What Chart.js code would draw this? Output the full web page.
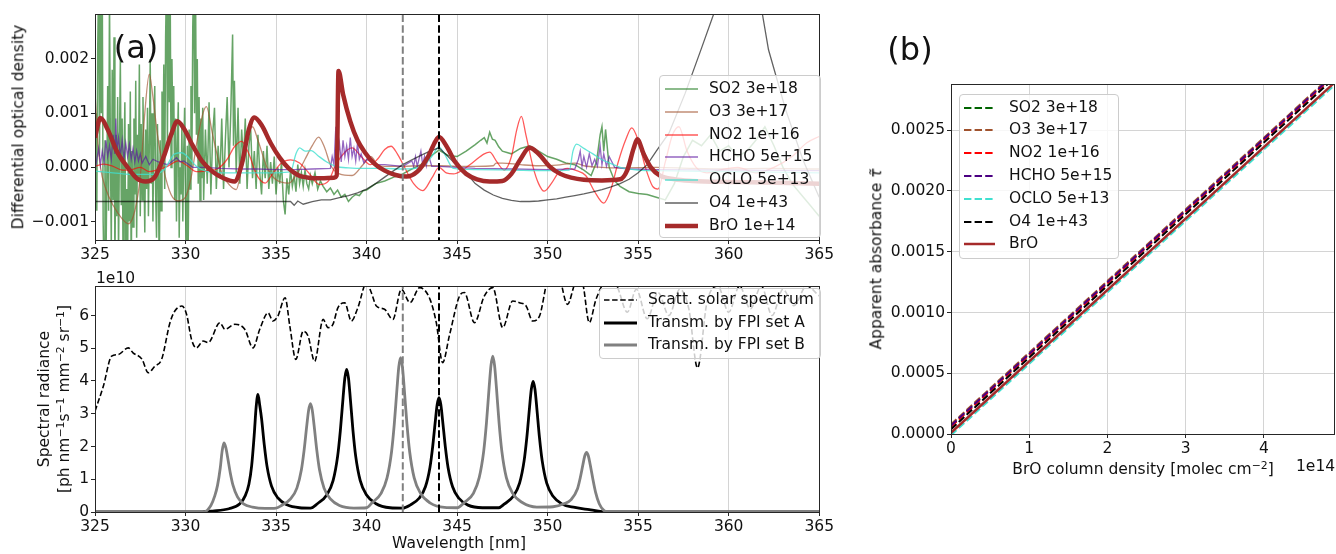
<!DOCTYPE html>
<html>
<head>
<meta charset="utf-8">
<script src="https://cdn.jsdelivr.net/npm/chart.js@4.4.1/dist/chart.umd.min.js"></script>
<style>
  body { margin: 0; background: #fff; width: 1336px; height: 554px; position: relative; overflow: hidden;
         font-family: "DejaVu Sans", sans-serif; color: #111; }
  canvas { position: absolute; }
  .t { position: absolute; font-size: 15.5px; white-space: nowrap; line-height: 1; }
  .rot { transform: translate(-50%, -50%) rotate(-90deg); }
  .ctr { transform: translate(-50%, -50%); }
  .legend { position: absolute; background: rgba(255,255,255,0.8); border: 1px solid #ccc; border-radius: 4px; box-sizing: border-box; }
  .lt { position: absolute; transform: translateY(-50%); font-size: 15.5px; white-space: nowrap; line-height: 1; }
  sup { font-size: 70%; line-height: 0; vertical-align: 0.5em; }
</style>
</head>
<body>
<canvas id="odChart" width="836" height="270" style="left:0;top:0"></canvas>
<canvas id="radChart" width="836" height="284" style="left:0;top:270px"></canvas>
<canvas id="linChart" width="496" height="554" style="left:840px;top:0"></canvas>

<div class="t ctr" style="left:136px;top:47px;font-size:32px">(a)</div>
<div class="t ctr" style="left:910px;top:49px;font-size:32px">(b)</div>
<div class="t rot" style="left:19px;top:127px">Differential optical density</div>
<div class="t rot" style="left:45px;top:399px">Spectral radiance</div>
<div class="t rot" style="left:65px;top:399px">[ph nm<sup>−1</sup>s<sup>−1</sup> mm<sup>−2</sup> sr<sup>−1</sup>]</div>
<div class="t" style="left:96px;top:271px">1e10</div>
<div class="t ctr" style="left:459px;top:544px">Wavelength [nm]</div>
<div class="t rot" style="left:877px;top:259px">Apparent absorbance <i>τ̃</i></div>
<div class="t ctr" style="left:1143px;top:470px">BrO column density [molec cm<sup>−2</sup>]</div>
<div class="t" style="left:1296px;top:459px">1e14</div>

<script>
// ---- panel (a) top: differential optical density, values in units of 1e-3 ----
const wlTicks = [325, 330, 335, 340, 345, 350, 355, 360, 365];
const odTicks = [-1, 0, 1, 2];
const markerWl = [342, 344];

const so2 = [[325.00,-0.3],[325.05,1.0],[325.10,-0.8],[325.15,2.2],[325.20,3.5],[325.25,0.2],[325.30,3.5],[325.35,1.0],[325.40,3.5],
  [325.45,-1.0],[325.50,-2.0],[325.55,0.5],[325.60,-2.0],[325.65,-0.3],[325.70,1.5],[325.75,-0.8],[325.80,3.2],[325.85,0.4],[325.90,-1.5],
  [325.95,1.8],[326.00,-0.6],[326.05,2.4],[326.10,-1.9],[326.15,0.6],[326.20,-0.9],[326.25,1.3],[326.30,-1.6],[326.35,0.4],[326.40,2.0],
  [326.45,-0.7],[326.50,0.9],[326.55,-1.8],[326.60,0.2],[326.65,1.2],[326.70,-2.0],[326.75,-0.4],[326.80,-2.0],[326.85,0.8],[326.90,-1.0],
  [326.95,1.4],[327.00,-2.0],[327.05,0.3],[327.10,-1.1],[327.15,0.9],[327.20,-0.5],[327.25,1.6],[327.30,-1.3],[327.35,0.6],[327.40,-0.2],
  [327.45,1.9],[327.50,-0.9],[327.55,0.8],[327.60,-0.6],[327.65,1.3],[327.70,0.1],[327.75,-1.2],[327.80,0.7],[327.85,-0.4],[327.90,1.1],
  [327.95,-0.9],[328.00,0.4],[328.05,2.0],[328.10,-0.3],[328.15,1.0],[328.20,-1.0],[328.25,0.6],[328.30,1.5],[328.35,-0.5],[328.40,-1.3],
  [328.45,0.8],[328.50,-0.2],[328.55,-2.0],[328.60,0.5],[328.65,-0.8],[328.70,1.4],[328.75,0.0],[328.80,1.9],[328.85,-0.4],[328.90,2.4],
  [328.95,3.5],[329.00,0.4],[329.05,3.5],[329.10,1.2],[329.15,3.5],[329.20,0.0],[329.25,2.0],[329.30,0.6],[329.35,1.5],[329.40,-0.6],
  [329.45,0.9],[329.50,-1.0],[329.55,0.4],[329.60,1.2],[329.65,-1.3],[329.70,0.0],[329.75,-0.5],[329.80,0.8],[329.85,-1.0],[329.90,0.3],
  [329.95,1.1],[330.00,-0.7],[330.05,-2.0],[330.10,0.4],[330.15,-1.4],[330.20,0.7],[330.25,-0.4],[330.30,1.5],[330.35,0.0],[330.40,2.6],
  [330.45,3.5],[330.50,1.0],[330.55,3.5],[330.60,0.6],[330.65,2.0],[330.70,-0.3],[330.75,1.3],[330.80,-0.6],[330.85,0.9],[330.90,-0.2],
  [330.95,1.1],[331.0,-0.6],[331.1,0.7],[331.2,-0.3],[331.3,1.2],[331.4,-0.5],[331.5,0.6],[331.6,1.1],[331.7,-0.4],[331.8,0.4],
  [331.9,-0.2],[332.0,0.9],[332.1,-0.4],[332.2,0.5],[332.3,1.3],[332.4,0.0],[332.5,1.0],[332.6,2.45],[332.65,0.4],[332.7,1.6],
  [332.8,-0.1],[332.9,1.1],[333.0,-0.3],[333.1,0.7],[333.2,0.1],[333.3,0.9],[333.4,-0.4],[333.5,0.4],[333.6,0.7],[333.7,-0.2],
  [333.8,0.3],[333.9,-0.4],[334.0,0.6],[334.1,-0.1],[334.2,-0.5],[334.3,0.3],[334.4,-0.2],[334.5,0.4],[334.6,-0.4],[334.7,0.1],
  [334.8,-0.3],[334.9,0.2],[335.0,-0.5],[335.1,0.0],[335.2,-0.3],[335.3,0.1],[335.4,-0.6],[335.5,-0.87],[335.6,-0.2],[335.7,-0.5],
  [335.8,-0.05],[335.9,-0.35],[336.0,-0.15],[336.1,-0.45],[336.2,0.05],[336.3,-0.3],[336.4,-0.1],[336.5,-0.35],[336.6,-0.05],[336.7,-0.3],
  [336.8,-0.4],[336.9,-0.15],[337.0,-0.3],[337.15,-0.1],[337.3,-0.4],[337.45,-0.25],[337.6,-0.35],[337.8,-0.45],[338.0,-0.38],[338.2,-0.5],
  [338.4,-0.42],[338.6,-0.55],[338.8,-0.5],[339.0,-0.63],[339.2,-0.55],[339.4,-0.5],[339.6,-0.52],[339.8,-0.43],[340.0,-0.42],
  [340.5,-0.3],[341.0,-0.25],[341.5,-0.18],[342.0,-0.12],[342.5,-0.03],[343.0,0.05],[343.5,0.2],[344.0,0.32],[344.5,0.22],[345.0,0.2],
  [345.5,0.3],[346.0,0.42],[346.3,0.5],[346.5,0.55],[346.65,0.45],[346.8,0.65],[346.95,0.52],[347.1,0.5],[347.3,0.38],[347.5,0.3],
  [348.0,0.25],[348.5,0.35],[349.0,0.4],[349.5,0.3],[350.0,0.2],[350.5,0.15],[351.0,0.08],[351.5,0.05],[352.0,-0.05],[352.4,-0.15],
  [352.7,0.1],[352.9,0.6],[353.0,0.75],[353.1,0.3],[353.2,0.7],[353.4,0.0],[353.7,-0.25],[354.0,-0.35],[354.5,-0.45],[355.0,-0.48],
  [355.5,-0.5],[356.0,-0.55],[356.5,-0.6],[357.0,-0.3],[357.5,0.2],[358.0,0.5],[358.5,0.4],[359.0,0.6],[359.5,0.3],[360.0,0.4],
  [360.5,0.2],[361.0,0.3],[361.5,0.5],[362.0,0.75],[362.5,0.4],[363.0,0.0],[363.5,-0.3],[364.0,-0.5],[364.5,-0.7],[365.0,-0.9]];

const o3 = [[325.0,1.4],[325.15,0.5],[325.3,0.0],[325.6,-0.4],[326.0,-0.7],[326.5,-0.95],[326.85,-1.04],[327.2,-0.8],[327.5,-0.17],
  [327.75,1.0],[328.0,1.72],[328.2,1.3],[328.45,0.6],[328.8,-0.05],[329.2,-0.5],[329.6,-0.62],[330.0,-0.55],[330.3,-0.2],[330.7,0.6],
  [331.15,1.12],[331.5,0.6],[332.0,-0.1],[332.5,-0.35],[332.8,-0.41],[333.1,0.0],[333.4,0.5],[333.7,0.75],[334.0,0.5],[334.5,0.0],
  [335.0,-0.23],[335.7,-0.29],[336.2,-0.1],[336.6,0.15],[337.0,0.4],[337.35,0.56],[337.7,0.35],[338.0,0.05],[338.5,-0.12],[339.2,-0.15],
  [339.8,0.05],[340.25,0.2],[340.6,0.05],[341.0,0.02],[342,0.02],[343,0.03],[344,0.03],[345,0.02],[346,0.02],[347.0,0.03],
  [347.15,0.08],[347.5,0.08],[348.5,0.05],[349.5,0.03],[350.5,0.04],[351.5,0.08],[352,0.03],[353,0.0],[354,-0.01],[356,0.0],
  [358,-0.02],[360,-0.03],[362,-0.02],[365,-0.03]];

const no2 = [[325.0,0.02],[325.5,0.06],[326.0,0.02],[326.5,-0.05],[327.0,-0.04],[327.5,0.0],[328.0,-0.08],[328.5,-0.04],[329.0,0.02],
  [329.6,0.12],[330.1,0.03],[330.6,-0.08],[331.2,-0.06],[331.8,-0.02],[332.3,0.15],[332.7,0.38],[333.1,0.48],[333.5,0.25],[333.9,-0.12],
  [334.4,-0.29],[334.8,-0.12],[335.3,0.08],[335.8,0.14],[336.3,0.08],[336.8,-0.1],[337.4,-0.32],[337.9,-0.25],[338.3,0.05],[338.8,0.28],
  [339.2,0.36],[339.7,0.2],[340.2,0.05],[340.6,0.15],[341.0,0.33],[341.35,0.39],[341.7,0.25],[342.1,0.0],[342.6,-0.3],[343.1,-0.43],
  [343.6,-0.2],[344.0,0.0],[344.4,-0.1],[344.8,-0.12],[345.3,-0.05],[345.9,0.1],[346.5,0.25],[346.8,0.28],[347.2,0.1],[347.6,-0.05],
  [348.0,0.2],[348.3,0.7],[348.55,0.94],[348.8,0.6],[349.2,0.0],[349.5,-0.3],[349.8,-0.44],[350.2,-0.3],[350.6,-0.1],[351.1,-0.02],
  [351.6,-0.06],[352.1,-0.15],[352.6,-0.45],[353.1,-0.66],[353.5,-0.4],[353.9,0.1],[354.3,0.5],[354.65,0.73],[355.0,0.5],[355.4,0.0],
  [355.8,-0.35],[356.1,-0.4],[356.5,0.1],[356.9,0.6],[357.25,0.75],[357.7,0.3],[358.2,0.0],[358.8,-0.1],[359.5,-0.05],[360.5,0.0],
  [361.5,-0.1],[362.5,0.0],[363.5,0.2],[364.3,0.45],[365.0,0.57]];

const hcho = [[325.0,-0.05],[325.1,0.15],[325.2,0.35],[325.3,0.05],[325.4,0.3],[325.5,0.1],[325.6,0.5],[325.7,0.2],[325.8,0.4],
  [325.9,0.15],[326.0,0.6],[326.1,0.25],[326.15,0.9],[326.2,0.3],[326.3,0.55],[326.4,0.2],[326.5,0.5],[326.6,0.15],[326.7,0.45],
  [326.8,0.2],[326.9,0.42],[327.0,0.15],[327.1,0.35],[327.2,0.1],[327.3,0.3],[327.4,0.12],[327.5,0.25],[327.6,0.08],[327.8,0.2],
  [328.0,0.05],[328.2,0.15],[328.5,0.1],[329.0,0.05],[329.3,0.12],[329.5,0.18],[329.7,0.1],[329.9,0.12],[330.4,0.0],[331,0.0],
  [332,-0.02],[333,-0.03],[334,-0.03],[335,-0.04],[336,-0.04],[337,-0.03],[338.0,-0.02],[338.1,0.2],[338.2,0.05],[338.3,0.75],
  [338.4,0.15],[338.5,0.45],[338.6,0.1],[338.7,0.5],[338.8,0.2],[338.9,0.4],[339.0,0.15],[339.1,0.55],[339.2,0.2],[339.3,0.35],
  [339.4,0.12],[339.5,0.45],[339.6,0.15],[339.7,0.25],[339.85,0.08],[340.0,0.15],[340.5,0.05],[341,0.05],[342,0.02],[342.5,0.12],
  [342.6,0.02],[342.7,0.2],[342.8,0.02],[343.0,0.3],[343.1,0.05],[343.2,0.2],[343.3,0.03],[343.4,0.25],[343.6,0.02],[344,0.02],
  [345,0.0],[346,-0.02],[348,-0.03],[350,-0.04],[351.5,-0.03],[351.7,0.15],[351.8,0.3],[351.9,0.02],[352.0,0.2],[352.15,0.0],
  [352.3,0.25],[352.45,0.03],[352.6,0.15],[352.75,0.02],[352.9,0.4],[353.0,0.05],[353.1,0.25],[353.25,0.02],[353.4,0.2],[353.7,0.0],
  [354.5,-0.03],[356,-0.04],[360,-0.05],[365,-0.06]];

const oclo = [[325.0,-0.07],[326.0,-0.1],[327.0,-0.13],[328.0,-0.13],[328.8,-0.05],[329.4,0.25],[329.8,0.27],[330.1,0.2],[330.6,0.02],
  [331.2,-0.08],[332,-0.1],[333,-0.1],[334,-0.1],[335,-0.1],[335.8,-0.08],[336.1,0.25],[336.3,0.36],[336.6,0.3],[336.95,0.31],
  [337.3,0.22],[337.8,0.1],[338.3,0.02],[339,-0.01],[340,-0.02],[341,-0.02],[342,-0.03],[343.0,0.0],[343.6,0.2],[344.0,0.38],
  [344.3,0.25],[344.8,-0.02],[346,-0.04],[348,-0.05],[350,-0.06],[351.2,-0.05],[351.4,0.3],[351.6,0.43],[352.0,0.35],[352.5,0.25],
  [353.0,0.14],[353.5,0.07],[354.0,0.0],[355,-0.05],[356,-0.06],[360,-0.08],[365,-0.1]];

const o4 = [[325.0,-0.63],[335.8,-0.63],[336.0,-0.7],[336.2,-0.62],[336.5,-0.68],[337.0,-0.63],[337.5,-0.6],[338.0,-0.6],[338.5,-0.56],
  [339.0,-0.52],[339.5,-0.47],[340.0,-0.4],[340.5,-0.3],[341.0,-0.18],[341.5,-0.06],[342.0,0.05],[342.5,0.14],[343.0,0.22],[343.5,0.3],
  [344.0,0.36],[344.5,0.2],[345.0,0.03],[345.5,-0.1],[346.0,-0.3],[346.5,-0.42],[347.0,-0.51],[347.5,-0.57],[348.0,-0.61],[348.5,-0.63],
  [349.0,-0.63],[349.5,-0.62],[350.0,-0.6],[350.5,-0.58],[351.0,-0.55],[351.5,-0.52],[352.0,-0.49],[352.5,-0.45],[353.0,-0.41],
  [353.5,-0.36],[354.0,-0.3],[354.5,-0.22],[355.0,-0.1],[355.5,0.05],[356.0,0.3],[356.7,0.63],[357.6,1.37],[358.5,2.2],[359.3,2.95],
  [360.5,3.6],[361.8,2.95],[362.2,2.17],[363.15,1.06],[364.1,0.14],[365.0,-0.55]];

const bro = [[325.0,0.55],[325.3,0.91],[325.7,0.7],[326.2,0.3],[326.8,0.0],[327.3,-0.2],[327.8,-0.26],[328.3,-0.18],[328.8,0.2],
  [329.2,0.6],[329.55,0.85],[329.9,0.72],[330.4,0.4],[330.9,0.12],[331.5,-0.08],[332.1,-0.2],[332.7,-0.26],[333.1,0.05],[333.5,0.7],
  [333.8,0.92],[334.2,0.78],[334.7,0.45],[335.2,0.18],[335.7,-0.02],[336.2,-0.14],[336.8,-0.19],[337.5,-0.2],[338.2,-0.19],
  [338.35,-0.15],[338.45,1.78],[338.7,1.35],[339.1,0.85],[339.5,0.5],[339.9,0.28],[340.4,0.08],[341.0,-0.06],[341.6,-0.14],
  [342.2,-0.17],[342.8,-0.08],[343.4,0.2],[343.8,0.48],[344.0,0.56],[344.4,0.4],[344.9,0.1],[345.5,-0.12],[346.1,-0.22],[346.8,-0.26],
  [347.5,-0.25],[348.0,-0.12],[348.5,0.15],[349.0,0.36],[349.5,0.25],[350.1,0.02],[350.7,-0.12],[351.3,-0.19],[352.0,-0.23],
  [353.0,-0.24],[354.0,-0.22],[354.4,-0.05],[354.75,0.35],[354.95,0.52],[355.3,0.25],[355.7,0.0],[356.2,-0.15],[357,-0.22],
  [358,-0.25],[360,-0.27],[362,-0.28],[365,-0.3]];

// ---- panel (a) bottom: spectral radiance, values in units of 1e10 ----
const radTicks = [0, 1, 2, 3, 4, 5, 6];

const solar = [[325.0,3.08],[325.46,3.84],[325.92,4.76],[326.29,4.81],[326.84,5.01],[327.1,4.86],[327.6,4.66],[327.94,4.25],
  [328.3,4.45],[328.68,4.66],[329.14,5.78],[329.4,6.13],[329.8,6.29],[330.06,6.03],[330.33,5.27],[330.6,5.01],[330.97,5.22],
  [331.25,5.17],[331.9,5.78],[332.17,5.58],[332.72,5.73],[333.27,5.58],[333.73,5.01],[334.1,5.58],[334.56,6.08],[334.83,5.83],
  [335.1,5.98],[335.5,6.54],[335.76,5.68],[336.09,4.66],[336.5,5.52],[336.77,5.37],[337.13,4.6],[337.6,5.88],[337.87,5.63],
  [338.14,5.73],[338.42,6.24],[338.79,6.39],[339.16,5.83],[339.52,6.24],[340.0,7.0],[340.26,6.7],[340.54,6.29],[340.99,6.19],
  [341.45,5.88],[341.92,6.8],[342.4,6.39],[342.93,6.85],[343.5,6.5],[343.85,5.78],[344.2,4.56],[344.58,5.4],[345.13,6.59],
  [345.4,6.7],[345.96,5.78],[346.5,6.59],[346.97,6.85],[347.52,5.63],[348.07,6.44],[348.44,6.39],[348.81,6.29],[349.18,5.83],
  [349.55,5.98],[350.0,7.1],[350.5,7.4],[351.1,6.34],[351.57,7.0],[351.9,7.0],[352.3,5.78],[352.67,6.49],[353.2,7.0],[353.8,6.9],
  [354.4,6.1],[354.9,6.8],[355.5,5.9],[356.1,6.7],[356.7,6.0],[357.3,6.8],[357.8,6.2],[358.28,4.4],[358.8,6.4],[359.4,6.9],
  [360.0,6.1],[360.6,6.9],[361.2,6.2],[361.8,6.9],[362.4,6.0],[363.0,6.8],[363.6,6.3],[364.3,6.9],[365.0,6.6]];

const fpiA = [[325,0],[330.8,0],[331.5,0.03],[332.4,0.1],[333.0,0.25],[333.3,0.5],[333.5,0.85],[333.65,1.4],[333.8,2.4],[333.9,3.2],
  [334.0,3.59],[334.1,3.25],[334.2,2.85],[334.35,2.05],[334.5,1.4],[334.75,0.79],[335.1,0.43],[335.6,0.22],[336.3,0.13],[336.9,0.12],
  [337.3,0.26],[337.8,0.52],[338.15,0.96],[338.4,1.7],[338.55,2.48],[338.7,3.48],[338.8,4.09],[338.9,4.35],[339.0,4.09],[339.1,3.48],
  [339.25,2.48],[339.4,1.7],[339.65,0.96],[340.0,0.52],[340.5,0.26],[341.3,0.13],[342.0,0.12],
  [342.4,0.21],[342.9,0.42],[343.25,0.77],[343.5,1.36],[343.65,1.99],[343.8,2.79],[343.9,3.28],[344.0,3.49],[344.1,3.28],[344.2,2.79],
  [344.35,1.99],[344.5,1.36],[344.75,0.77],[345.1,0.42],[345.6,0.21],[346.4,0.13],[347.3,0.13],
  [347.6,0.24],[348.1,0.48],[348.45,0.88],[348.7,1.56],[348.85,2.27],[349.0,3.19],[349.1,3.75],[349.2,3.99],[349.3,3.75],[349.4,3.19],
  [349.55,2.27],[349.7,1.56],[349.95,0.88],[350.3,0.48],[350.8,0.24],[351.5,0.14],[352.3,0.07],[352.9,0.02],[353.4,0],[365,0]];

const fpiB = [[325,0],[331.0,0],[331.4,0.2],[331.62,0.5],[331.77,0.82],[331.92,1.35],[332.02,1.85],[332.12,2.11],[332.22,1.98],
  [332.32,1.69],[332.47,1.2],[332.62,0.82],[332.87,0.46],[333.2,0.25],[333.7,0.15],[334.4,0.11],[335.0,0.12],
  [335.3,0.2],[335.8,0.4],[336.15,0.73],[336.4,1.29],[336.55,1.89],[336.7,2.65],[336.8,3.11],[336.9,3.31],[337.0,3.11],[337.1,2.65],
  [337.25,1.89],[337.4,1.29],[337.65,0.73],[338.0,0.4],[338.5,0.2],[339.3,0.12],[340.0,0.13],
  [340.3,0.28],[340.8,0.57],[341.13,1.04],[341.38,1.84],[341.53,2.68],[341.68,3.77],[341.78,4.43],[341.88,4.71],[341.98,4.43],
  [342.08,3.77],[342.23,2.68],[342.38,1.84],[342.63,1.04],[342.98,0.57],[343.5,0.28],[344.3,0.14],[345.0,0.13],
  [345.4,0.29],[345.9,0.57],[346.22,1.05],[346.47,1.86],[346.62,2.71],[346.77,3.81],[346.87,4.47],[346.97,4.76],[347.07,4.47],
  [347.17,3.81],[347.32,2.71],[347.47,1.86],[347.72,1.05],[348.07,0.57],[348.6,0.29],[349.4,0.15],[350.3,0.16],
  [350.9,0.25],[351.3,0.38],[351.65,0.71],[351.8,1.04],[351.95,1.45],[352.05,1.71],[352.15,1.82],[352.25,1.71],[352.35,1.45],
  [352.5,1.0],[352.65,0.6],[352.85,0.25],[353.1,0.05],[353.3,0],[365,0]];

// ---- panel (b): apparent absorbance vs BrO column (x in units of 1e14) ----
const colTicks = [0, 1, 2, 3, 4];
const absTicks = [0, 0.0005, 0.001, 0.0015, 0.002, 0.0025];
const broColumn = [0, 4.9];
const absSO2 = [0.00007, 0.00296];
const absO3 = [0.00008, 0.00297];
const absNO2 = [0.00006, 0.00295];
const absHCHO = [0.00007, 0.00296];
const absOCLO = [-0.00001, 0.00287];
const absO4 = [0.00004, 0.00293];
const absBrO = [0.00001, 0.00289];

Chart.defaults.font.family = '"DejaVu Sans", sans-serif';
Chart.defaults.font.size = 15.5;
Chart.defaults.color = '#111';

const xy = pts => pts.map(p => ({ x: p[0], y: p[1] }));
const pairs = (xs, ys) => xs.map((x, i) => ({ x: x, y: ys[i] }));

const frame = {
  id: 'frame',
  afterDraw(chart) {
    const a = chart.chartArea, g = chart.ctx;
    g.save();
    g.strokeStyle = '#262626';
    g.lineWidth = 1;
    g.strokeRect(Math.round(a.left) + 0.5, Math.round(a.top) + 0.5,
                 Math.round(a.right - a.left), Math.round(a.bottom - a.top));
    g.restore();
  }
};

function axis(min, max, ticks, fmt, size, onArea, isX) {
  return {
    type: 'linear', min: min, max: max,
    afterBuildTicks: s => { s.ticks = ticks.map(v => ({ value: v })); },
    afterFit: s => { if (isX) s.height = size; else s.width = size; },
    grid: { display: true, drawOnChartArea: onArea, color: '#d4d4d4', lineWidth: 1,
            tickColor: '#262626', tickLength: 4 },
    border: { display: false },
    ticks: { padding: 2, autoSkip: false, maxRotation: 0, callback: fmt }
  };
}

function line(data, color, width, extra) {
  return Object.assign({ data: data, borderColor: color, borderWidth: width, pointRadius: 0,
                         fill: false, tension: 0, clip: 0 }, extra || {});
}

function vmark(wl, color) {
  return line([{ x: wl, y: -100 }, { x: wl, y: 100 }], color, 2, { borderDash: [7.4, 3.2] });
}

const common = {
  responsive: false, animation: false, events: [], devicePixelRatio: 1,
  plugins: { legend: { display: false }, tooltip: { enabled: false } }
};
const smooth = { cubicInterpolationMode: 'monotone' };
const wlFmt = v => String(v);
const minus = s => s.replace('-', '\u2212');

// first dataset is drawn on top in Chart.js, so lists run top -> bottom
new Chart(document.getElementById('odChart'), {
  type: 'line',
  data: { datasets: [
    vmark(markerWl[1], '#000'),
    vmark(markerWl[0], '#808080'),
    line(xy(bro), '#a52a2a', 4.5, smooth),
    line(xy(o4), 'rgba(0,0,0,0.62)', 1.3),
    line(xy(oclo), 'rgba(64,224,208,0.8)', 1.3, smooth),
    line(xy(hcho), 'rgba(90,20,160,0.65)', 1.3),
    line(xy(no2), 'rgba(255,0,0,0.65)', 1.3, smooth),
    line(xy(o3), 'rgba(160,82,45,0.65)', 1.3, smooth),
    line(xy(so2), 'rgba(20,115,20,0.65)', 1.5)
  ] },
  options: Object.assign({}, common, {
    layout: { padding: { left: 0, top: 14, right: 16, bottom: 0 } },
    scales: {
      x: axis(325, 365, wlTicks, wlFmt, 30, true, true),
      y: axis(-1.34, 2.83, odTicks, v => minus((v / 1000).toFixed(3)), 95, false, false)
    }
  }),
  plugins: [frame]
});

new Chart(document.getElementById('radChart'), {
  type: 'line',
  data: { datasets: [
    vmark(markerWl[1], '#000'),
    vmark(markerWl[0], '#808080'),
    line(xy(fpiB), '#808080', 2.8, smooth),
    line(xy(fpiA), '#000', 2.8, smooth),
    line(xy(solar), '#000', 1.6, Object.assign({ borderDash: [5.5, 2.6] }, smooth))
  ] },
  options: Object.assign({}, common, {
    layout: { padding: { left: 0, top: 16, right: 16, bottom: 0 } },
    scales: {
      x: axis(325, 365, wlTicks, wlFmt, 42, true, true),
      y: axis(0, 6.9, radTicks, v => String(v), 95, false, false)
    }
  }),
  plugins: [frame]
});

const dash = { borderDash: [7.4, 3.2] };
new Chart(document.getElementById('linChart'), {
  type: 'line',
  data: { datasets: [
    line(pairs(broColumn, absBrO), '#a52a2a', 2.5),
    line(pairs(broColumn, absO4), '#000', 2, dash),
    line(pairs(broColumn, absOCLO), '#40e0d0', 2, dash),
    line(pairs(broColumn, absHCHO), '#4b0082', 2, dash),
    line(pairs(broColumn, absNO2), '#ff0000', 2, dash),
    line(pairs(broColumn, absO3), '#a0522d', 2, dash),
    line(pairs(broColumn, absSO2), '#006400', 2, dash)
  ] },
  options: Object.assign({}, common, {
    layout: { padding: { left: 0, top: 84, right: 2, bottom: 0 } },
    scales: {
      x: axis(0, 4.895, colTicks, v => String(v), 120, true, true),
      y: axis(0, 0.00288, absTicks, v => v.toFixed(4), 111, true, false)
    }
  }),
  plugins: [frame]
});

// legends
function legend(box, items) {
  const el = document.createElement('div');
  el.className = 'legend';
  Object.assign(el.style, { left: box.x + 'px', top: box.y + 'px', width: box.w + 'px', height: box.h + 'px' });
  items.forEach((it, i) => {
    const cy = box.first + i * box.step;
    const d = it.d ? ' stroke-dasharray="' + it.d + '"' : '';
    el.insertAdjacentHTML('beforeend',
      '<svg style="position:absolute;left:' + box.lx + 'px;top:' + (cy - 5) + 'px" width="' + box.lw + '" height="10">' +
      '<line x1="0" y1="5" x2="' + box.lw + '" y2="5" stroke="' + it.c + '" stroke-width="' + it.w + '"' + d + '/></svg>' +
      '<div class="lt" style="left:' + box.tx + 'px;top:' + cy + 'px">' + it.t + '</div>');
  });
  document.body.appendChild(el);
}

legend({ x: 659, y: 75, w: 162, h: 163, first: 13, step: 22.8, lx: 5, lw: 33, tx: 49 }, [
  { t: 'SO2 3e+18', c: 'rgba(20,115,20,0.65)', w: 1.5 },
  { t: 'O3 3e+17', c: 'rgba(160,82,45,0.65)', w: 1.5 },
  { t: 'NO2 1e+16', c: 'rgba(255,0,0,0.65)', w: 1.5 },
  { t: 'HCHO 5e+15', c: 'rgba(90,20,160,0.65)', w: 1.5 },
  { t: 'OCLO 5e+13', c: 'rgba(64,224,208,0.8)', w: 1.5 },
  { t: 'O4 1e+43', c: 'rgba(0,0,0,0.62)', w: 1.5 },
  { t: 'BrO 1e+14', c: '#a52a2a', w: 4.5 }
]);

legend({ x: 599, y: 288, w: 222, h: 71, first: 11, step: 22.5, lx: 4, lw: 33, tx: 48 }, [
  { t: 'Scatt. solar spectrum', c: '#000', w: 1.6, d: '5.5 2.6' },
  { t: 'Transm. by FPI set A', c: '#000', w: 2.8 },
  { t: 'Transm. by FPI set B', c: '#808080', w: 2.8 }
]);

legend({ x: 959, y: 94, w: 160, h: 165, first: 12.5, step: 22.8, lx: 4, lw: 31, tx: 49 }, [
  { t: 'SO2 3e+18', c: '#006400', w: 2, d: '7.4 3.2' },
  { t: 'O3 3e+17', c: '#a0522d', w: 2, d: '7.4 3.2' },
  { t: 'NO2 1e+16', c: '#ff0000', w: 2, d: '7.4 3.2' },
  { t: 'HCHO 5e+15', c: '#4b0082', w: 2, d: '7.4 3.2' },
  { t: 'OCLO 5e+13', c: '#40e0d0', w: 2, d: '7.4 3.2' },
  { t: 'O4 1e+43', c: '#000', w: 2, d: '7.4 3.2' },
  { t: 'BrO', c: '#a52a2a', w: 2.5 }
]);
</script>
</body>
</html>
